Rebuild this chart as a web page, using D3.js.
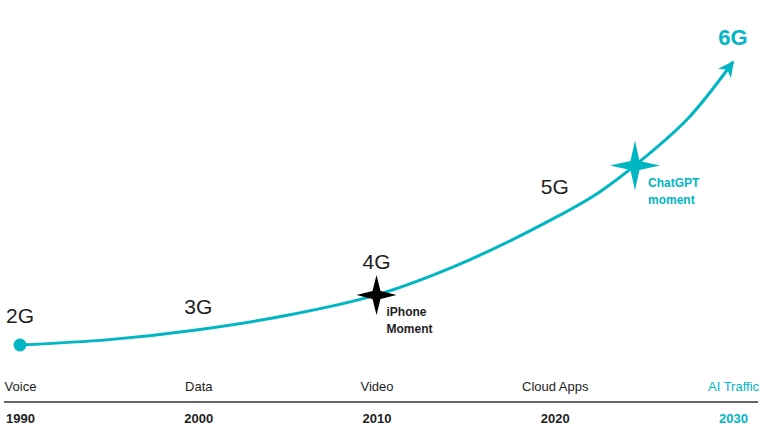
<!DOCTYPE html>
<html>
<head>
<meta charset="utf-8">
<script src="https://cdn.jsdelivr.net/npm/d3@7"></script>
<style>
  body { margin: 0; background: #fff; }
  svg { display: block; font-family: "Liberation Sans", Arial, sans-serif; }
</style>
</head>
<body>
<svg id="chart" width="760" height="428"></svg>
<script>
// curve samples (traffic index, 0 at 1990, 100 at the arrow tip)
const curveYears = [1990, 1995, 2000, 2005, 2010, 2015, 2020, 2022.5, 2025, 2027.5, 2030];
const curveValues = [0, 1.9, 5.4, 10.5, 17.7, 29.5, 44.9, 54.0, 66.0, 80.2, 100];

const tickYears = [1990, 2000, 2010, 2020, 2030];
const tickCategories = ['Voice', 'Data', 'Video', 'Cloud Apps', 'AI Traffic'];

const generations = ['2G', '3G', '4G', '5G', '6G'];
const generationYears = [1990, 2000, 2010, 2020, 2030];

const milestoneNames = [['iPhone', 'Moment'], ['ChatGPT', 'moment']];
const milestoneYears = [2010, 2024.5];
const milestoneValues = [17.7, 63.4];

const TEAL = '#00b6c3';
const INK = '#1e1e1e';

const svg = d3.select('#chart');
const x = d3.scaleLinear().domain([1990, 2030]).range([20, 733]);
const y = d3.scaleLinear().domain([0, 100]).range([345, 62]);

// baseline rule
const AXIS_Y = 402;
svg.append('line')
  .attr('x1', 4).attr('x2', 758)
  .attr('y1', AXIS_Y).attr('y2', AXIS_Y)
  .attr('stroke', '#333').attr('stroke-width', 1.4);

// categories above the rule, years below it
const catAxis = svg.append('g')
  .attr('transform', `translate(0,${AXIS_Y - 8})`)
  .call(d3.axisTop(x).tickValues(tickYears).tickSize(0)
    .tickFormat((d, i) => tickCategories[i]));
const yearAxis = svg.append('g')
  .attr('transform', `translate(0,${AXIS_Y + 6})`)
  .call(d3.axisBottom(x).tickValues(tickYears).tickSize(0)
    .tickFormat(d3.format('d')));

[catAxis, yearAxis].forEach(g => {
  g.select('.domain').remove();
  g.selectAll('text')
    .attr('font-family', '"Liberation Sans", Arial, sans-serif')
    .attr('font-size', 13)
    .attr('fill', (d, i) => i === tickYears.length - 1 ? TEAL : INK);
});
catAxis.selectAll('text').attr('dy', 0);
yearAxis.selectAll('text').attr('font-weight', 'bold').attr('dy', '0.9em');

// arrow marker
svg.append('defs').append('marker')
  .attr('id', 'arrow')
  .attr('viewBox', '0 0 10 10')
  .attr('refX', 9).attr('refY', 5)
  .attr('markerUnits', 'userSpaceOnUse')
  .attr('markerWidth', 16).attr('markerHeight', 16)
  .attr('orient', 'auto')
  .append('path')
  .attr('d', 'M0,0 L10,5 L0,10 L3,5 Z')
  .attr('fill', TEAL);

const pts = curveYears.map((yr, i) => [yr, curveValues[i]]);
const line = d3.line()
  .x(d => x(d[0]))
  .y(d => y(d[1]))
  .curve(d3.curveCatmullRom.alpha(0.5));

svg.append('path')
  .datum(pts)
  .attr('d', line)
  .attr('fill', 'none')
  .attr('stroke', TEAL)
  .attr('stroke-width', 3)
  .attr('marker-end', 'url(#arrow)');

svg.append('circle')
  .attr('cx', x(curveYears[0]))
  .attr('cy', y(curveValues[0]))
  .attr('r', 6.5)
  .attr('fill', TEAL);

// generation labels, lifted above the curve
const genLift = [22, 16, 26, 24, 17];
const valueAt = yr => curveValues[curveYears.indexOf(yr)];
svg.selectAll('.gen')
  .data(generations)
  .join('text')
  .attr('class', 'gen')
  .attr('x', (d, i) => x(generationYears[i]))
  .attr('y', (d, i) => y(valueAt(generationYears[i])) - genLift[i])
  .attr('text-anchor', 'middle')
  .attr('font-size', (d, i) => i === 4 ? 22 : 21)
  .attr('font-weight', (d, i) => i === 4 ? 'bold' : 'normal')
  .attr('fill', (d, i) => i === 4 ? TEAL : INK)
  .text(d => d);

// four-pointed sparkle
function star(r, w) {
  return `M0,${-r} L${w},${-w} L${r},0 L${w},${w} L0,${r} L${-w},${w} L${-r},0 L${-w},${-w} Z`;
}
const starSize = [[20, 4], [25, 4.5]];
const starColor = ['#000', TEAL];
const ms = svg.selectAll('.milestone')
  .data(milestoneNames)
  .join('g')
  .attr('class', 'milestone')
  .attr('transform', (d, i) => `translate(${x(milestoneYears[i])},${y(milestoneValues[i])})`);
ms.append('path')
  .attr('d', (d, i) => star(starSize[i][0], starSize[i][1]))
  .attr('fill', (d, i) => starColor[i]);
ms.append('text')
  .attr('x', (d, i) => i === 0 ? 10 : 13)
  .attr('y', 21)
  .attr('font-size', 12)
  .attr('font-weight', 'bold')
  .attr('fill', (d, i) => i === 0 ? INK : TEAL)
  .selectAll('tspan')
  .data(d => d)
  .join('tspan')
  .attr('x', function () { return this.parentNode.getAttribute('x'); })
  .attr('dy', (d, i) => i === 0 ? 0 : 17)
  .text(d => d);
</script>
</body>
</html>
